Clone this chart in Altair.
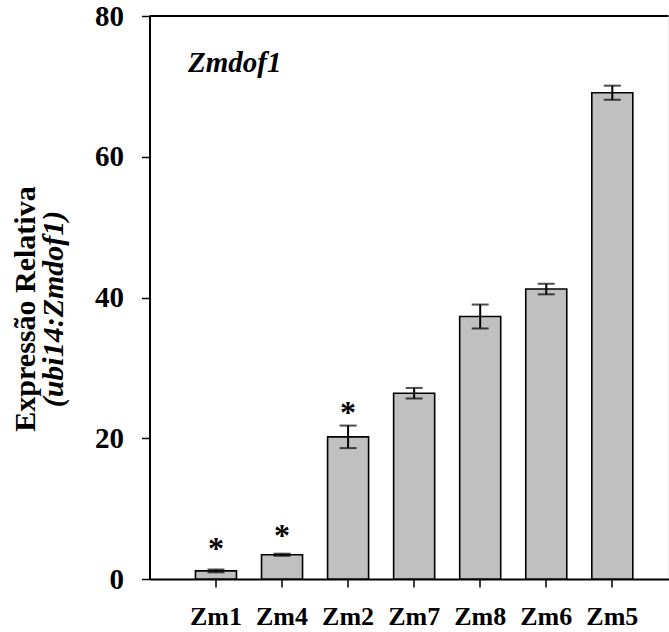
import altair as alt
import pandas as pd

categories = ["Zm1", "Zm4", "Zm2", "Zm7", "Zm8", "Zm6", "Zm5"]
means = [1.15, 3.45, 20.2, 26.4, 37.3, 41.2, 69.1]
errors = [0.2, 0.15, 1.6, 0.75, 1.7, 0.75, 1.0]
star_cats = ["Zm1", "Zm4", "Zm2"]
star_heights = [5.1, 7.0, 24.4]
y_ticks = [0, 20, 40, 60, 80]

FONT = "'Liberation Serif', 'Times New Roman', Times, serif"

df = pd.DataFrame({"cat": categories, "mean": means, "err": errors})
stars = pd.DataFrame({"cat": star_cats, "h": star_heights, "t": ["*"] * 3})
top = pd.DataFrame({"top": [y_ticks[-1]]})

xscale = alt.Scale(domain=categories, paddingInner=0.379, paddingOuter=0.618, align=0.563)
yscale = alt.Scale(domain=[0, 80], nice=False)

x_axis = alt.Axis(
    title=None, labelFont=FONT, labelFontSize=26, labelFontWeight="bold",
    labelColor="black", labelAngle=0, labelPadding=16, tickSize=8, tickWidth=1.5,
    tickColor="black", domainColor="black", domainWidth=2,
)
y_axis = alt.Axis(
    title=None, values=y_ticks, labelFont=FONT, labelFontSize=29, labelFontWeight="bold",
    labelColor="black", labelPadding=18, tickSize=8, tickWidth=1.5, tickColor="black",
    domainColor="black", domainWidth=2, grid=False,
)

base = alt.Chart(df)

bars = base.mark_bar(fill="#c0c0c0", stroke="black", strokeWidth=1.6).encode(
    x=alt.X("cat:N", scale=xscale, axis=x_axis, sort=categories),
    y=alt.Y("mean:Q", scale=yscale, axis=y_axis),
)

eb = base.transform_calculate(lo="datum.mean - datum.err", hi="datum.mean + datum.err")
err_rule = eb.mark_rule(color="black", strokeWidth=2).encode(
    x=alt.X("cat:N", scale=xscale, sort=categories),
    y=alt.Y("lo:Q", scale=yscale),
    y2="hi:Q",
)
cap_lo = eb.mark_tick(color="black", size=17, thickness=2).encode(
    x=alt.X("cat:N", scale=xscale, sort=categories),
    y=alt.Y("lo:Q", scale=yscale),
)
cap_hi = eb.mark_tick(color="black", size=17, thickness=2).encode(
    x=alt.X("cat:N", scale=xscale, sort=categories),
    y=alt.Y("hi:Q", scale=yscale),
)

star_marks = alt.Chart(stars).mark_text(
    font=FONT, fontSize=32, fontWeight="bold", color="black", baseline="middle", dy=6
).encode(
    x=alt.X("cat:N", scale=xscale, sort=categories),
    y=alt.Y("h:Q", scale=yscale),
    text="t:N",
)

top_line = alt.Chart(top).mark_rule(color="black", strokeWidth=2).encode(
    y=alt.Y("top:Q", scale=yscale)
)

gene_label = alt.Chart(top).mark_text(
    text="Zmdof1", font=FONT, fontSize=29, fontWeight="bold", fontStyle="italic",
    color="black", align="left", baseline="alphabetic",
).encode(x=alt.value(38.5), y=alt.value(56))

ytitle1 = alt.Chart(top).mark_text(
    text="Expressão Relativa", font=FONT, fontSize=30, fontWeight="bold",
    color="black", align="center", baseline="alphabetic", angle=270,
).encode(x=alt.value(-115), y=alt.value(293))

ytitle2 = alt.Chart(top).mark_text(
    text="(ubi14:Zmdof1)", font=FONT, fontSize=30, fontWeight="bold", fontStyle="italic",
    color="black", align="center", baseline="alphabetic", angle=270,
).encode(x=alt.value(-87), y=alt.value(293))

chart = alt.layer(
    bars, err_rule, cap_lo, cap_hi, star_marks, top_line, gene_label, ytitle1, ytitle2
).properties(
    width=519, height=563,
    autosize=alt.AutoSizeParams(type="none"),
    padding={"left": 149.5, "top": 16, "right": 0.5, "bottom": 53},
).configure_view(stroke=None).configure(background="white")

chart.save("out.html", embed_options={"renderer": "svg", "actions": False})
